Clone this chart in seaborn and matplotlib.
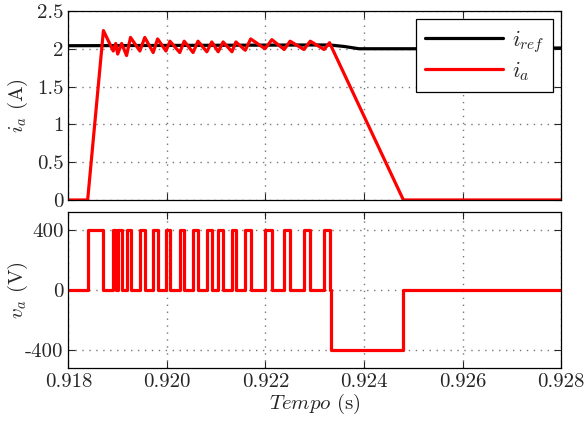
import matplotlib
matplotlib.use("Agg")
import matplotlib.pyplot as plt
import seaborn as sns
import pandas as pd

# Data (time in seconds)
iref_t = [0.9180, 0.9230, 0.9233, 0.9236, 0.9239, 0.9250, 0.9280]
iref_v = [2.04, 2.05, 2.05, 2.03, 2.00, 2.00, 2.01]

ia_t = [0.91800, 0.91839, 0.91871, 0.91891, 0.91896, 0.91900, 0.91908, 0.91918,
        0.91926, 0.91945, 0.91955, 0.91972, 0.91981, 0.91998, 0.92006, 0.92026,
        0.92035, 0.92053, 0.92063, 0.92081, 0.92091, 0.92104, 0.92114, 0.92132,
        0.92140, 0.92159, 0.92170, 0.92199, 0.92213, 0.92238, 0.92250, 0.92278,
        0.92291, 0.92319, 0.92330, 0.92480, 0.92800]
ia_v = [0.0, 0.0, 2.24, 1.97, 2.07, 1.93, 2.07, 1.91,
        2.15, 1.97, 2.15, 1.95, 2.13, 1.97, 2.10, 1.95,
        2.10, 1.95, 2.10, 1.96, 2.09, 1.96, 2.09, 1.96,
        2.09, 1.98, 2.13, 2.00, 2.12, 1.99, 2.10, 1.99,
        2.10, 1.99, 2.08, 0.0, 0.0]

va_t = [0.91800, 0.91839, 0.91871, 0.91891, 0.91896, 0.91900, 0.91908, 0.91918,
        0.91926, 0.91945, 0.91955, 0.91972, 0.91981, 0.91998, 0.92006, 0.92026,
        0.92035, 0.92053, 0.92063, 0.92081, 0.92091, 0.92104, 0.92114, 0.92132,
        0.92140, 0.92159, 0.92170, 0.92199, 0.92213, 0.92238, 0.92250, 0.92278,
        0.92291, 0.92319, 0.92330, 0.92333, 0.92480, 0.92800]
va_v = [0, 400, 0, 400, 0, 400, 0, 400,
        0, 400, 0, 400, 0, 400, 0, 400,
        0, 400, 0, 400, 0, 400, 0, 400,
        0, 400, 0, 400, 0, 400, 0, 400,
        0, 400, 0, -400, 0, 0]

x_ticks = [0.918, 0.920, 0.922, 0.924, 0.926, 0.928]
x_labels = ["0.918", "0.920", "0.922", "0.924", "0.926", "0.928"]
ia_ticks = [0, 0.5, 1, 1.5, 2, 2.5]
ia_labels = ["0", "0.5", "1", "1.5", "2", "2.5"]
va_ticks = [-400, 0, 400]
va_labels = ["-400", "0", "400"]

sns.set_style("ticks")
plt.rcParams["font.family"] = ["cmr10", "DejaVu Serif"]
plt.rcParams["mathtext.fontset"] = "cm"
plt.rcParams["axes.unicode_minus"] = False
plt.rcParams["axes.formatter.use_mathtext"] = True
plt.rcParams["xtick.direction"] = "in"
plt.rcParams["ytick.direction"] = "in"

fig = plt.figure(figsize=(5.85, 4.21), dpi=100)
ax1 = fig.add_axes([0.117, 0.525, 0.842, 0.449])
ax2 = fig.add_axes([0.117, 0.126, 0.842, 0.370])

df_ref = pd.DataFrame({"t": iref_t, "v": iref_v})
df_ia = pd.DataFrame({"t": ia_t, "v": ia_v})
df_va = pd.DataFrame({"t": va_t, "v": va_v})

sns.lineplot(data=df_ref, x="t", y="v", ax=ax1, color="black", lw=2.3,
             label=r"$i_{ref}$", sort=False, estimator=None)
sns.lineplot(data=df_ia, x="t", y="v", ax=ax1, color="red", lw=2.3,
             label=r"$i_a$", sort=False, estimator=None)
sns.lineplot(data=df_va, x="t", y="v", ax=ax2, color="red", lw=2.3,
             drawstyle="steps-post", sort=False, estimator=None, legend=False)

fs = 15
for ax in (ax1, ax2):
    ax.set_xlim(0.918, 0.928)
    ax.set_xticks(x_ticks)
    ax.grid(True, ls=(0, (1, 4)), color="#777777", lw=1.0)
    ax.tick_params(top=True, right=True, length=5, width=0.8, labelsize=fs)
    for s in ax.spines.values():
        s.set_linewidth(0.9)
        s.set_color("black")

ax1.set_ylim(0, 2.5)
ax1.set_yticks(ia_ticks)
ax1.set_yticklabels(ia_labels)
ax1.set_xticklabels([])
ax1.set_xlabel("")
ax1.set_ylabel(r"$i_a$ (A)", fontsize=fs)

ax2.set_ylim(-520, 520)
ax2.set_yticks(va_ticks)
ax2.set_yticklabels(va_labels)
ax2.set_xticklabels(x_labels)
ax2.set_ylabel(r"$v_a$ (V)", fontsize=fs)
ax2.set_xlabel(r"$Tempo$ (s)", fontsize=fs, labelpad=1)

ax1.yaxis.set_label_coords(-0.078, 0.5)
ax2.yaxis.set_label_coords(-0.078, 0.5)

leg = ax1.legend(loc="upper right", fontsize=16, handlelength=3.5,
                 fancybox=False, framealpha=1, edgecolor="black",
                 borderaxespad=0.35, handletextpad=0.4, labelspacing=0.2,
                 borderpad=0.4)
leg.get_frame().set_linewidth(0.9)

fig.savefig("out.png", dpi=100)
